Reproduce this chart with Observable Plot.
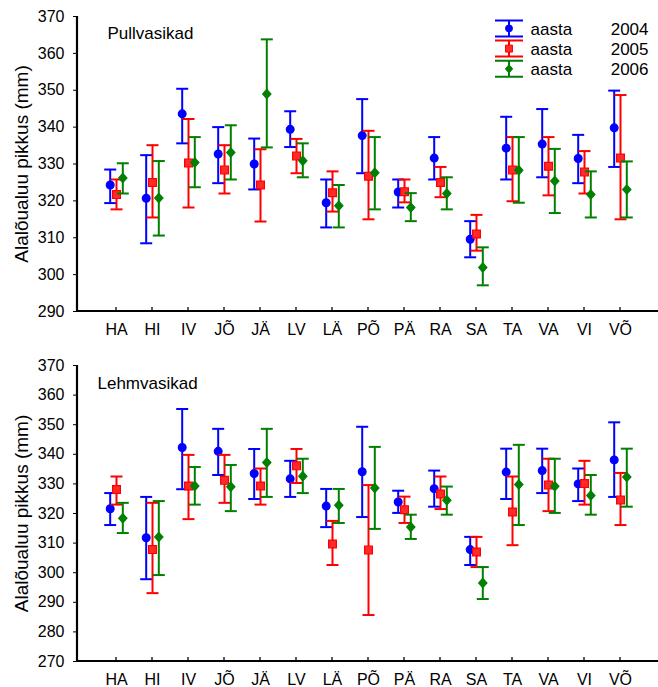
<!DOCTYPE html>
<html><head><meta charset="utf-8">
<script src="https://cdn.jsdelivr.net/npm/d3@7"></script>
<script src="https://cdn.jsdelivr.net/npm/@observablehq/plot@0.6"></script>
<style>
body{margin:0;background:#fff;}
#wrap{position:relative;width:658px;height:687px;font-family:"Liberation Sans",Arial,sans-serif;}
#wrap svg{display:block;}
#legend{position:absolute;left:0;top:0;pointer-events:none;}
</style></head><body><div id="wrap"></div>
<script>
const categories = ["HA","HI","IV","JÕ","JÄ","LV","LÄ","PÕ","PÄ","RA","SA","TA","VA","VI","VÕ"];
const years = ["2004","2005","2006"];
const legendPrefix = "aasta";
const panelTitles = ["Pullvasikad","Lehmvasikad"];
const yLabel = "Alalõualuu pikkus (mm)";
const pullTicks = [290,300,310,320,330,340,350,360,370];
const lehmTicks = [270,280,290,300,310,320,330,340,350,360,370];

// Pullvasikad
const pullMean2004 = [324.3,320.7,343.6,332.7,330.0,339.4,319.5,337.7,322.4,331.6,309.6,334.3,335.4,331.5,339.8];
const pullLo2004   = [319.4,308.5,335.6,324.8,323.1,334.6,312.8,327.5,318.2,325.8,304.7,325.8,326.4,324.8,329.2];
const pullHi2004   = [328.5,332.4,350.4,340.0,336.9,344.3,325.8,347.6,325.8,337.3,314.5,342.8,344.9,337.9,349.9];
const pullMean2005 = [321.7,325.0,330.3,328.4,324.3,332.2,322.2,326.7,322.5,325.0,311.0,328.4,329.4,327.8,331.6];
const pullLo2005   = [317.7,315.5,318.2,322.0,314.4,327.5,317.1,315.0,319.6,321.0,306.5,319.9,321.5,322.0,315.0];
const pullHi2005   = [325.8,335.1,342.2,335.1,334.0,336.8,328.0,339.0,325.8,329.2,316.2,337.3,337.3,333.5,348.7];
const pullMean2006 = [326.2,320.8,330.4,333.1,349.0,330.9,318.7,327.6,318.2,322.0,301.9,328.3,325.4,321.7,323.1];
const pullLo2006   = [322.0,310.6,323.7,325.8,334.5,326.4,312.8,317.7,314.5,317.7,297.1,319.5,316.7,315.5,315.5];
const pullHi2006   = [330.2,330.8,337.3,340.5,363.8,335.6,324.3,337.3,322.1,326.4,307.4,337.3,334.1,328.0,330.7];

// Lehmvasikad
const lehmMean2004 = [321.6,311.8,342.3,341.0,333.5,331.7,322.5,334.1,323.9,328.4,307.8,334.0,334.5,330.0,338.1];
const lehmLo2004   = [316.1,297.8,328.2,333.0,324.9,325.6,315.4,318.8,320.2,322.3,302.6,324.9,326.9,324.2,325.6];
const lehmHi2004   = [326.9,325.6,355.3,348.6,341.8,337.8,328.3,349.3,327.7,334.5,312.1,341.9,341.9,335.2,350.8];
const lehmMean2005 = [328.1,307.8,329.3,331.2,329.3,336.1,309.7,307.7,321.3,326.6,307.0,320.5,329.6,330.1,324.6];
const lehmLo2005   = [323.0,293.1,318.1,323.6,323.0,330.3,302.6,285.7,316.8,321.5,301.9,309.3,320.8,323.0,316.1];
const lehmHi2005   = [332.5,323.6,339.8,339.8,335.2,341.8,317.5,329.6,325.7,332.5,312.1,332.5,338.5,337.8,333.7];
const lehmMean2006 = [318.4,312.1,329.3,329.0,337.2,332.6,322.8,328.6,315.4,324.5,296.5,329.8,329.2,326.1,332.3];
const lehmLo2006   = [313.4,299.2,323.0,320.8,325.6,326.9,316.8,314.8,311.4,319.6,291.1,316.1,320.2,319.6,322.3];
const lehmHi2006   = [323.6,324.2,335.7,336.4,348.6,338.5,328.3,342.5,319.6,329.1,301.9,343.2,338.5,333.0,341.9];

// styles
const seriesColors = ["#0000ff", "#ff0000", "#008000"];
const seriesOffsets = [-6.3, 0, 6.3];
const FONT = "Liberation Sans, Arial, sans-serif";

const capSymbol = {draw(ctx, size){ const w = Math.sqrt(size/Math.PI); ctx.moveTo(-w,0); ctx.lineTo(w,0); }};
const diamondSymbol = {draw(ctx, size){ const r = Math.sqrt(size/Math.PI); ctx.moveTo(0,-r); ctx.lineTo(r*0.9,0); ctx.lineTo(0,r); ctx.lineTo(-r*0.9,0); ctx.closePath(); }};
const seriesSymbols = ["circle", "square", diamondSymbol];
const seriesR = [3.9, 4.4, 4.6];
const seriesFill = ["#0000ff", "#ff2a2a", "#008000"];

function rowsFor(mean, lo, hi, year){
  return categories.map((c,i)=>({cat:c, year, mean:mean[i], lo:lo[i], hi:hi[i]}));
}
const panels = [
  {title: panelTitles[0], ticks: pullTicks, height: 340, mt: 16, mb: 29, tdx: 30, tdy: 17,
   series: [rowsFor(pullMean2004,pullLo2004,pullHi2004,years[0]), rowsFor(pullMean2005,pullLo2005,pullHi2005,years[1]), rowsFor(pullMean2006,pullLo2006,pullHi2006,years[2])]},
  {title: panelTitles[1], ticks: lehmTicks, height: 347, mt: 25, mb: 26, tdx: 20, tdy: 18,
   series: [rowsFor(lehmMean2004,lehmLo2004,lehmHi2004,years[0]), rowsFor(lehmMean2005,lehmLo2005,lehmHi2005,years[1]), rowsFor(lehmMean2006,lehmLo2006,lehmHi2006,years[2])]}
];

function axisLines(I, scales, values, dims){
  const {width, height, marginLeft, marginRight, marginTop, marginBottom} = dims;
  const g = d3.create("svg:g").attr("stroke", "black").attr("fill", "none");
  const yb = height - marginBottom;
  g.append("path").attr("stroke-width", 2.2)
    .attr("d", `M${marginLeft},${marginTop}V${yb}H${width - marginRight}`);
  for (const c of categories) {
    const x = scales.x(c);
    g.append("path").attr("stroke-width", 1.3).attr("d", `M${x},${yb}V${yb-4}`);
  }
  return g.node();
}

const wrap = document.getElementById("wrap");
for (const p of panels) {
  const marks = [];
  p.series.forEach((rows, s) => {
    const col = seriesColors[s], off = seriesOffsets[s];
    marks.push(Plot.ruleX(rows, {x:"cat", y1:"lo", y2:"hi", stroke: col, strokeWidth: 2, dx: off}));
    marks.push(Plot.dot(rows, {x:"cat", y:"hi", symbol: capSymbol, r: 6, fill: "none", stroke: col, strokeWidth: 2, dx: off}));
    marks.push(Plot.dot(rows, {x:"cat", y:"lo", symbol: capSymbol, r: 6, fill: "none", stroke: col, strokeWidth: 2, dx: off}));
    marks.push(Plot.dot(rows, {x:"cat", y:"mean", symbol: seriesSymbols[s], r: seriesR[s], fill: seriesFill[s], stroke: col, strokeWidth: 1.2, dx: off}));
  });
  marks.push(Plot.text([p.title], {text: d=>d, frameAnchor: "top-left", textAnchor: "start", lineAnchor: "middle", dx: p.tdx, dy: p.tdy, fontSize: 17, fill: "black"}));
  marks.push(Plot.text([yLabel], {text: d=>d, frameAnchor: "left", rotate: -90, textAnchor: "middle", lineAnchor: "middle", dx: -56, fontSize: 19, fill: "black"}));
  marks.push(axisLines);
  const chart = Plot.plot({
    width: 658, height: p.height,
    marginLeft: 77, marginRight: 0, marginTop: p.mt, marginBottom: p.mb,
    style: {fontFamily: FONT, fontSize: "16px", color: "black", background: "white", overflow: "visible"},
    x: {type: "point", domain: categories, range: [94.3, 641.7], tickSize: 0, tickPadding: 12, label: null},
    y: {domain: [p.ticks[0], p.ticks[p.ticks.length-1]], ticks: p.ticks, tickSize: 4, tickPadding: 9, label: null},
    marks
  });
  wrap.appendChild(chart);
}

// legend (top panel, upper right)
const lg = d3.select(wrap).append("svg").attr("id","legend").attr("width", 658).attr("height", 100);
const legX = 509, legY0 = 28.4, legStep = 20.2;
years.forEach((yr, s) => {
  const cy = legY0 + s*legStep, col = seriesColors[s];
  const g = lg.append("g").attr("transform", `translate(${legX},${cy})`);
  g.append("path").attr("d", "M-14,-8H14M-14,8H14M0,-8V8").attr("stroke", col).attr("stroke-width", 2).attr("fill","none");
  const sym = typeof seriesSymbols[s] === "string" ? {circle: d3.symbolCircle, square: d3.symbolSquare}[seriesSymbols[s]] : seriesSymbols[s];
  g.append("path").attr("d", d3.symbol(sym, Math.PI*seriesR[s]*seriesR[s]*0.8)()).attr("fill", seriesFill[s]).attr("stroke", col).attr("stroke-width", 1);
  lg.append("text").attr("x", 530.5).attr("y", cy + 6.5).attr("font-family", FONT).attr("font-size", 17).text(legendPrefix);
  lg.append("text").attr("x", 648.5).attr("y", cy + 6.5).attr("text-anchor", "end").attr("font-family", FONT).attr("font-size", 17).text(yr);
});
</script></body></html>
